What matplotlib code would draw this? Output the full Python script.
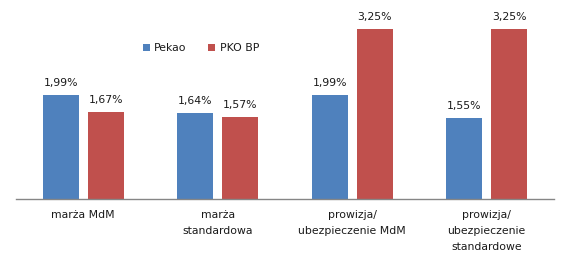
import matplotlib
matplotlib.use("Agg")
import matplotlib.pyplot as plt
import numpy as np

categories = ["marża MdM", "marża\nstandardowa", "prowizja/\nubezpieczenie MdM", "prowizja/\nubezpieczenie\nstandardowe"]
series_names = ["Pekao", "PKO BP"]
pekao = [1.99, 1.64, 1.99, 1.55]
pko = [1.67, 1.57, 3.25, 3.25]
colors = ["#4F81BD", "#C0504D"]

plt.rcParams['font.family'] = ['DejaVu Sans']
fig = plt.figure(figsize=(5.69, 2.67), dpi=100)
ax = fig.add_axes([16/569, (267-199)/267, (554-16)/569, 199/267])

x = np.arange(len(categories))
w = 0.268
off = 0.168
for vals, name, col, o in [(pekao, series_names[0], colors[0], -off), (pko, series_names[1], colors[1], off)]:
    bars = ax.bar(x + o, vals, w, color=col, label=name)
    for b, v in zip(bars, vals):
        ax.annotate(f"{v:.2f}".replace(".", ",") + "%", (b.get_x() + b.get_width()/2, v),
                    xytext=(0, 5), textcoords="offset points", ha="center", va="bottom",
                    fontsize=7.8, color="#1a1a1a")

ax.set_xlim(-0.5, len(categories) - 0.5)
ax.set_ylim(0, 3.8)
ax.set_xticks(x)
ax.set_xticklabels(categories, fontsize=7.8, color="#1a1a1a", linespacing=1.75, va="top")
ax.tick_params(axis="x", length=0, pad=8)
ax.set_yticks([])
for s in ["top", "right", "left"]:
    ax.spines[s].set_visible(False)
ax.spines["bottom"].set_color("#868686")
ax.spines["bottom"].set_linewidth(1)

leg = ax.legend(loc="center", bbox_to_anchor=(201/569, 1 - 48/267), bbox_transform=fig.transFigure,
                ncol=2, frameon=False, fontsize=7.8, handlelength=0.65, handleheight=0.65,
                handletextpad=0.4, columnspacing=2.0)
for t in leg.get_texts():
    t.set_color("#1a1a1a")

fig.savefig("out.png", dpi=100)
